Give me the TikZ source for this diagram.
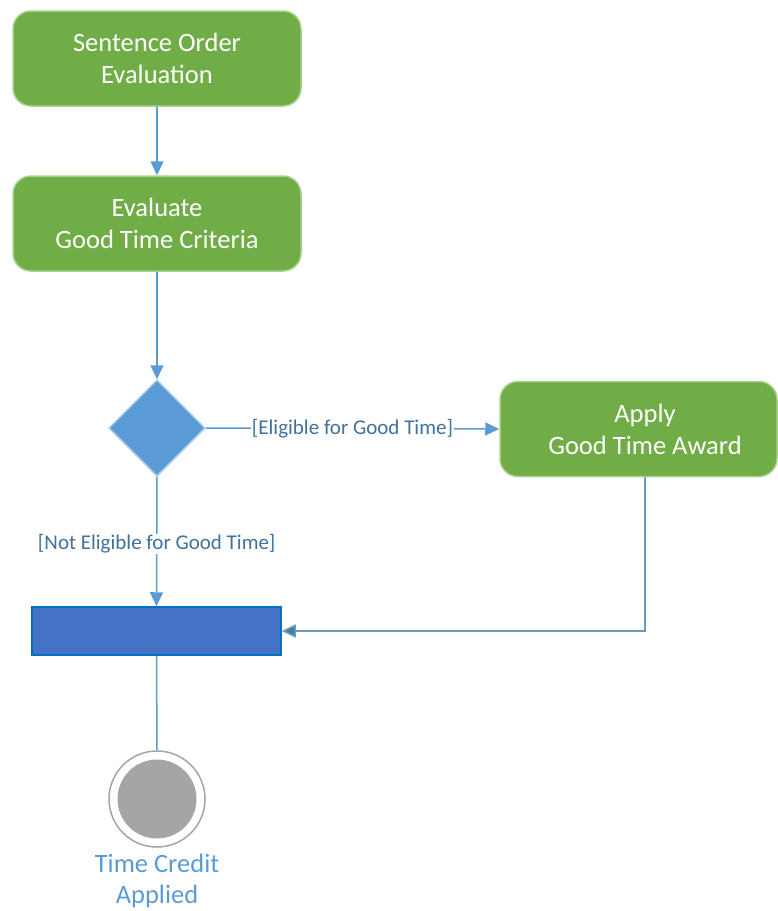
\documentclass[tikz,border=0pt]{standalone}
\usepackage{fontspec}
\setmainfont{Carlito}
\usetikzlibrary{shapes.geometric,arrows.meta}
\definecolor{gfill}{HTML}{70AD47}
\definecolor{gline}{HTML}{A9D18E}
\definecolor{dfill}{HTML}{5B9BD5}
\definecolor{dline}{HTML}{9DC3E6}
\definecolor{bfill}{HTML}{4472C4}
\definecolor{bline}{HTML}{0070C0}
\definecolor{conn}{HTML}{5B9BD5}
\definecolor{conn2}{HTML}{6A9BC0}
\definecolor{tip2}{HTML}{41829C}
\definecolor{lbl}{HTML}{41719C}
\definecolor{endg}{HTML}{A5A5A5}
\tikzset{
  actbox/.style={draw=gline, line width=1.5pt, fill=gfill, rounded corners=18pt,
    minimum width=288pt, minimum height=95pt, text=white, align=center,
    font=\fontsize{26.5}{32}\selectfont, inner sep=0pt},
  decis/.style={diamond, draw=dline, line width=1.5pt, fill=dfill,
    minimum width=96pt, minimum height=96pt, inner sep=0pt},
  joinbar/.style={draw=bline, line width=1.5pt, fill=bfill, minimum width=249pt,
    minimum height=48pt, inner sep=0pt},
  flow/.style={draw=conn, line width=1.5pt, -{Triangle[length=14pt,width=13pt]}},
  guard/.style={text=lbl, font=\fontsize{21}{24}\selectfont, fill=white, inner sep=1pt},
}
\begin{document}
\begin{tikzpicture}[x=1pt,y=-1pt]
\useasboundingbox (0,0) rectangle (778,911);
\node[actbox] (s1) at (157,58.5) {Sentence Order\\Evaluation};
\node[actbox] (s2) at (157,223.5) {Evaluate\\Good Time Criteria};
\node[decis] (d) at (157,428) {};
\node[actbox, minimum width=277pt] (s3) at (638.5,429) {\hspace*{13pt}Apply\\\hspace*{13pt}Good Time Award};
\node[joinbar] (bar) at (156.5,631) {};
\node[circle, draw=endg, line width=1.5pt, fill=white, minimum size=96pt, inner sep=0pt] (fin) at (157,799) {};
\node[circle, fill=endg, minimum size=79pt, inner sep=0pt] (fincore) at (fin.center) {};
\node[text=dfill, align=center, font=\fontsize{26.5}{31}\selectfont, anchor=north] (finlbl) at (157,851) {Time Credit\\Applied};

\draw[flow] (s1.south) -- (s2.north);
\draw[flow] (s2.south) -- (d.north);
\draw[flow] (d.east) -- node[guard, pos=0.5] (g1) {[Eligible for Good Time]} (s3.west);
\draw[flow] (d.south) -- node[guard, pos=0.52] (g2) {[Not Eligible for Good Time]} (bar.north);
\coordinate (corner) at (645,631);
\draw[draw=conn2, line width=1.5pt, -{Triangle[length=14pt,width=13pt,fill=tip2]}]
  (s3.south -| corner) -- (corner) -- (bar.east);
\draw[draw=conn, line width=1.5pt] (bar.south) -- (fin.north);
\end{tikzpicture}
\end{document}
